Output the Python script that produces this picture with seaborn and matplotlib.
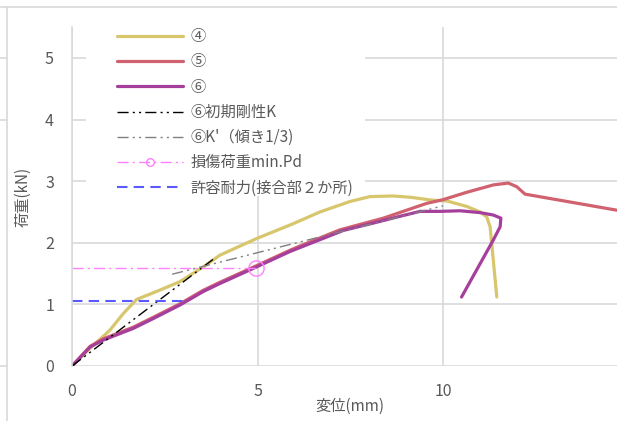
import matplotlib
matplotlib.use("Agg")
import matplotlib.pyplot as plt
from matplotlib.lines import Line2D
from matplotlib.patches import Rectangle
import seaborn as sns
import pandas as pd

# ---- load-displacement data (displacement in mm, load in kN) ----
s4_x = [0, 0.49, 1.02, 1.38, 1.74, 2.28, 2.91, 3.54, 3.99, 4.98, 5.88, 6.15, 6.68,
        7.49, 8.03, 8.65, 9.11, 9.73, 10.1, 10.64, 11.0, 11.18, 11.27, 11.45]
s4_y = [0, 0.29, 0.58, 0.85, 1.08, 1.21, 1.37, 1.61, 1.80, 2.07, 2.29, 2.36, 2.50,
        2.67, 2.75, 2.76, 2.74, 2.69, 2.68, 2.59, 2.50, 2.42, 2.26, 1.12]

s5_x = [0, 0.49, 0.84, 1.65, 2.19, 2.91, 3.54, 3.99, 4.98, 5.88, 6.15, 7.22, 8.39,
        9.56, 10.0, 10.64, 11.36, 11.76, 11.99, 12.21, 14.68, 15.0]
s5_y = [0, 0.32, 0.44, 0.63, 0.79, 1.01, 1.23, 1.36, 1.63, 1.88, 1.95, 2.21, 2.40,
        2.64, 2.70, 2.82, 2.94, 2.97, 2.91, 2.79, 2.53, 2.50]

s6_x = [0, 0.49, 0.84, 1.65, 2.19, 2.91, 3.54, 3.99, 4.98, 5.88, 6.68, 7.31, 8.12,
        8.84, 9.38, 9.92, 10.46, 11.0, 11.36, 11.56, 11.54, 11.36, 10.5]
s6_y = [0, 0.31, 0.42, 0.61, 0.77, 0.99, 1.21, 1.34, 1.61, 1.86, 2.05, 2.20, 2.32,
        2.43, 2.51, 2.51, 2.52, 2.49, 2.45, 2.40, 2.26, 2.05, 1.12]

# initial stiffness K of ⑥ and the line with one third of that slope
k_x = [0, 3.8]
k_y = [0, 1.73]
k3_x = [2.7, 10.0]
k3_y = [1.49, 2.60]

# damage load min.Pd and allowable strength
pd_x = [0, 4.96]
pd_y = [1.59, 1.59]
allow_x = [0, 3.0]
allow_y = [1.06, 1.06]

labels = ["④", "⑤", "⑥", "⑥初期剛性K", "⑥K'（傾き1/3)", "損傷荷重min.Pd", "許容耐力(接合部２か所)"]
x_ticks = [0, 5, 10]
y_ticks = [0, 1, 2, 3, 4, 5]

sns.set_theme(style="white")
plt.rcParams["font.family"] = ["Noto Sans CJK JP", "DejaVu Sans"]

W, H = 617, 421
fig = plt.figure(figsize=(W / 100, H / 100), dpi=100)
ax = fig.add_axes([72 / W, 55 / H, (628.5 - 72) / W, (366 - 27.2) / H])

txt = "#595959"
grid_c = "#D9D9D9"


def series(x, y, **kw):
    df = pd.DataFrame({"x": x, "y": y})
    sns.lineplot(data=df, x="x", y="y", sort=False, estimator=None, ax=ax, **kw)


series(s4_x, s4_y, color="#D8C66C", lw=2.3, label=labels[0])
series(s5_x, s5_y, color="#D0616F", lw=2.3, label=labels[1])
series(s6_x, s6_y, color="#A63F9C", lw=2.3, label=labels[2])
series(k_x, k_y, color="black", lw=1.0, dashes=(8, 3, 1.5, 3, 1.5, 3), label=labels[3])
series(k3_x, k3_y, color="#808080", lw=1.0, dashes=(8, 3, 1.5, 3, 1.5, 3), label=labels[4])
ax.plot(pd_x, pd_y, color="#FF80FF", lw=1.0, dashes=(8, 3, 1.5, 3),
        marker="o", markevery=[1], markersize=11, markerfacecolor="none",
        markeredgecolor="#FF80FF", markeredgewidth=1.0, label=labels[5])
series(allow_x, allow_y, color="#5A5AFF", lw=1.5, dashes=(5, 3), label=labels[6])

ax.set_xlim(0, 15)
ax.set_ylim(0, 5.5)
ax.set_xticks(x_ticks)
ax.set_yticks(y_ticks)
ax.set_xticklabels([str(v) for v in x_ticks])
ax.set_yticklabels([str(v) for v in y_ticks])
ax.tick_params(axis="both", length=0, labelsize=11.5, labelcolor=txt)
ax.tick_params(axis="x", pad=12)
ax.tick_params(axis="y", pad=13)

ax.grid(True, color=grid_c, lw=1.2)
ax.set_axisbelow(True)
for side in ["top", "right", "bottom"]:
    ax.spines[side].set_visible(False)
ax.spines["left"].set_color(grid_c)
ax.spines["left"].set_linewidth(1.2)

ax.set_xlabel("変位(mm)", fontsize=11, color=txt)
ax.set_ylabel("荷重(kN)", fontsize=11, color=txt, labelpad=10)
ax.xaxis.set_label_coords((350 - 72) / (628.5 - 72), -(398 - 366) / (366 - 27.2))

# white legend area
ax.add_patch(Rectangle((86 / W, 1 - 196 / H), (365 - 86) / W, (196 - 20) / H,
                       transform=fig.transFigure, facecolor="white",
                       edgecolor="none", zorder=4, clip_on=False))

leg = ax.legend(loc="upper left", bbox_to_anchor=(111 / W, 1 - 22 / H),
                bbox_transform=fig.transFigure, borderaxespad=0, borderpad=0.4,
                handlelength=4.3, handletextpad=0.5, labelspacing=0.54,
                fontsize=11, frameon=False, markerscale=0.5)
leg.set_zorder(5)
for t in leg.get_texts():
    t.set_color(txt)

# outer chart frame
fig.add_artist(Line2D([0, 1], [1 - 7 / H] * 2, color=grid_c, lw=1.2))
fig.add_artist(Line2D([7 / W] * 2, [0, 1 - 7 / H], color=grid_c, lw=1.2))
for yv in [5, 4, 0]:
    yf = (55 + yv * 61.6) / H
    fig.add_artist(Line2D([0, 7 / W], [yf, yf], color=grid_c, lw=1.2))

fig.savefig("out.png", dpi=100)
